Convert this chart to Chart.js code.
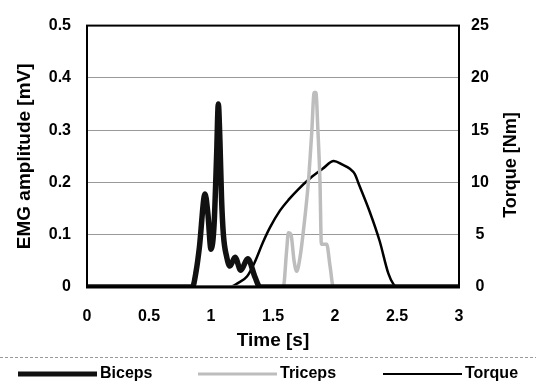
<!DOCTYPE html>
<html lang="en">
<head>
    <meta charset="UTF-8">
    <title>EMG and Torque</title>
    <script src="https://cdn.jsdelivr.net/npm/chart.js"></script>
    <style>
        body {
            margin: 0;
            background: #fff;
        }
        #wrap {
            width: 536px;
            height: 384px;
        }
    </style>
</head>
<body>
    <div id="wrap">
        <canvas id="emg-chart"></canvas>
    </div>

    <script>
        // Biceps EMG amplitude [mV] over time [s]
        const bicepsTime = [0, 0.85, 0.88, 0.906, 0.952, 0.975, 1.0, 1.025, 1.045, 1.059, 1.072, 1.085, 1.10, 1.127, 1.153, 1.194, 1.24, 1.296, 1.355, 1.395, 3];
        const bicepsAmp  = [0, 0, 0.03, 0.075, 0.178, 0.14, 0.072, 0.12, 0.25, 0.35, 0.28, 0.17, 0.10, 0.057, 0.04, 0.057, 0.032, 0.054, 0.019, 0, 0];

        // Triceps EMG amplitude [mV]
        const tricepsTime = [0, 1.583, 1.61, 1.624, 1.645, 1.67, 1.691, 1.72, 1.745, 1.785, 1.812, 1.832, 1.846, 1.862, 1.879, 1.89, 1.933, 1.96, 1.987, 3];
        const tricepsAmp  = [0, 0, 0.07, 0.104, 0.10, 0.05, 0.03, 0.06, 0.107, 0.20, 0.294, 0.372, 0.372, 0.30, 0.20, 0.082, 0.082, 0.04, 0, 0];

        // Torque [Nm]
        const torqueTime = [0, 1.15, 1.22, 1.29, 1.35, 1.42, 1.476, 1.556, 1.63, 1.70, 1.80, 1.90, 1.99, 2.06, 2.12, 2.16, 2.19, 2.28, 2.36, 2.43, 2.47, 2.5, 3];
        const torqueNm   = [0, 0, 0.4, 1.0, 2.3, 4.3, 5.7, 7.3, 8.4, 9.3, 10.4, 11.3, 12.05, 11.7, 11.3, 10.8, 9.9, 7.2, 4.4, 1.3, 0.3, 0, 0];

        const seriesNames = ['Biceps', 'Triceps', 'Torque'];
        const xTicks = [0, 0.5, 1, 1.5, 2, 2.5, 3];

        const FONT = '"Liberation Sans", Arial, sans-serif';

        function toPoints(xs, ys) {
            return xs.map((x, i) => ({ x: x, y: ys[i] }));
        }

        // frame, separator, right axis title and the legend row
        const extrasPlugin = {
            id: 'extras',
            afterDatasetsDraw(chart) {
                const { ctx, chartArea } = chart;
                ctx.save();
                ctx.strokeStyle = '#000';
                ctx.lineWidth = 2;
                ctx.strokeRect(chartArea.left, chartArea.top, chartArea.right - chartArea.left, chartArea.bottom - chartArea.top);
                ctx.lineWidth = 3;
                ctx.beginPath();
                ctx.moveTo(chartArea.left - 1, chartArea.bottom);
                ctx.lineTo(chartArea.right + 1, chartArea.bottom);
                ctx.stroke();
                ctx.restore();
            },
            afterDraw(chart) {
                const { ctx } = chart;
                ctx.save();

                // dotted separator above the legend
                ctx.strokeStyle = '#999';
                ctx.lineWidth = 1;
                ctx.setLineDash([3, 2]);
                ctx.beginPath();
                ctx.moveTo(0, 357.5);
                ctx.lineTo(536, 357.5);
                ctx.stroke();
                ctx.setLineDash([]);

                // right axis title, reading bottom to top
                ctx.fillStyle = '#000';
                ctx.font = 'bold 18px ' + FONT;
                ctx.textAlign = 'center';
                ctx.textBaseline = 'middle';
                ctx.translate(511, 165);
                ctx.rotate(-Math.PI / 2);
                ctx.fillText('Torque [Nm]', 0, 0);
                ctx.setTransform(1, 0, 0, 1, 0, 0);

                // legend
                const itemX = [18, 198, 383];
                const lineW = [5, 3, 2];
                ctx.font = 'bold 16px ' + FONT;
                ctx.textAlign = 'left';
                chart.data.datasets.forEach((ds, i) => {
                    ctx.strokeStyle = ds.borderColor;
                    ctx.lineWidth = lineW[i];
                    ctx.beginPath();
                    ctx.moveTo(itemX[i], 374);
                    ctx.lineTo(itemX[i] + 79, 374);
                    ctx.stroke();
                    ctx.fillStyle = '#000';
                    ctx.fillText(ds.label, itemX[i] + 82, 374);
                });
                ctx.restore();
            }
        };

        const ctx = document.getElementById('emg-chart').getContext('2d');
        const chart = new Chart(ctx, {
            type: 'line',
            data: {
                datasets: [{
                    label: seriesNames[0],
                    data: toPoints(bicepsTime, bicepsAmp),
                    borderColor: '#111',
                    borderWidth: 5.5,
                    yAxisID: 'y'
                }, {
                    label: seriesNames[1],
                    data: toPoints(tricepsTime, tricepsAmp),
                    borderColor: '#bdbdbd',
                    borderWidth: 3.5,
                    yAxisID: 'y'
                }, {
                    label: seriesNames[2],
                    data: toPoints(torqueTime, torqueNm),
                    borderColor: '#000',
                    borderWidth: 2.5,
                    yAxisID: 'y2'
                }]
            },
            options: {
                responsive: true,
                maintainAspectRatio: false,
                animation: false,
                layout: {
                    padding: { top: 20, bottom: 32, left: 0, right: 0 }
                },
                elements: {
                    point: { radius: 0 },
                    line: { cubicInterpolationMode: 'monotone', fill: false }
                },
                plugins: {
                    legend: { display: false },
                    tooltip: { enabled: false }
                },
                scales: {
                    x: {
                        type: 'linear',
                        min: 0,
                        max: 3,
                        afterBuildTicks: (scale) => { scale.ticks = xTicks.map(v => ({ value: v })); },
                        afterFit: (scale) => { scale.height = 65; },
                        grid: { display: false, drawTicks: false },
                        border: { display: false },
                        ticks: {
                            color: '#000',
                            padding: 20,
                            maxRotation: 0,
                            callback: (v) => String(v),
                            font: { family: FONT, size: 16, weight: 'bold' }
                        },
                        title: {
                            display: true,
                            text: 'Time [s]',
                            color: '#000',
                            padding: { top: 0, bottom: 0 },
                            font: { family: FONT, size: 19, weight: 'bold' }
                        }
                    },
                    y: {
                        position: 'left',
                        min: 0,
                        max: 0.5,
                        afterFit: (scale) => { scale.width = 87; },
                        grid: { color: '#999', lineWidth: 1, drawTicks: false },
                        border: { display: false },
                        ticks: {
                            stepSize: 0.1,
                            color: '#000',
                            padding: 16,
                            font: { family: FONT, size: 16, weight: 'bold' }
                        },
                        title: {
                            display: true,
                            text: 'EMG amplitude [mV]',
                            color: '#000',
                            padding: { top: 13, bottom: 0 },
                            font: { family: FONT, size: 19, weight: 'bold' }
                        }
                    },
                    y2: {
                        position: 'right',
                        min: 0,
                        max: 25,
                        afterFit: (scale) => { scale.width = 77; },
                        grid: { display: false, drawTicks: false },
                        border: { display: false },
                        ticks: {
                            stepSize: 5,
                            color: '#000',
                            padding: 12,
                            crossAlign: 'center',
                            font: { family: FONT, size: 16, weight: 'bold' }
                        }
                    }
                }
            },
            plugins: [extrasPlugin]
        });
    </script>
</body>
</html>
